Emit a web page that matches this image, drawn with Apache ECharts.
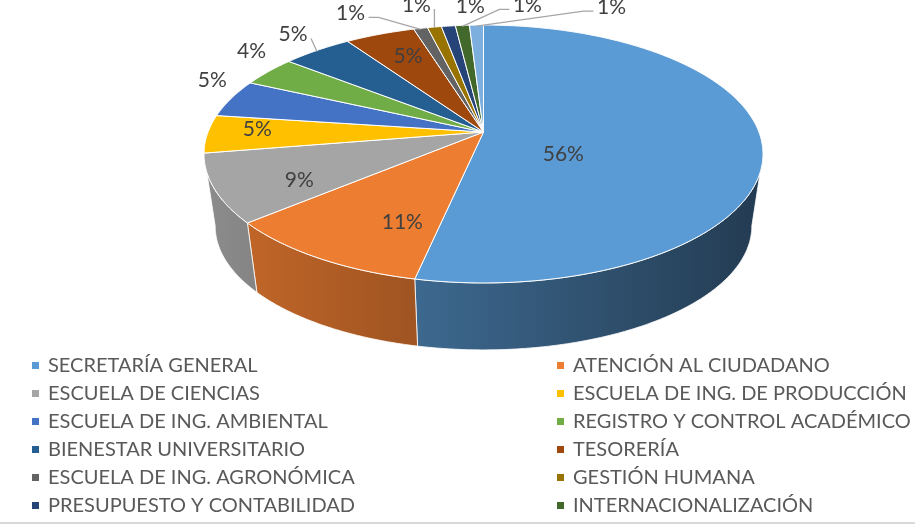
<!DOCTYPE html>
<html>
<head>
<meta charset="utf-8">
<script src="https://cdn.jsdelivr.net/npm/echarts@6/dist/echarts.min.js"></script>
<style>
  html, body { margin: 0; padding: 0; background: #fff; }
  #main { width: 915px; height: 529px; }
</style>
</head>
<body>
<div id="main"></div>
<script>
// datos del gráfico
var names = ['SECRETARÍA GENERAL', 'ATENCIÓN AL CIUDADANO', 'ESCUELA DE CIENCIAS',
  'ESCUELA DE ING. DE PRODUCCIÓN', 'ESCUELA DE ING. AMBIENTAL', 'REGISTRO Y CONTROL ACADÉMICO',
  'BIENESTAR UNIVERSITARIO', 'TESORERÍA', 'ESCUELA DE ING. AGRONÓMICA', 'GESTIÓN HUMANA',
  'PRESUPUESTO Y CONTABILIDAD', 'INTERNACIONALIZACIÓN', 'OTRAS DEPENDENCIAS'];
var values = [56, 11, 9, 5, 5, 4, 5, 5, 1, 1, 1, 1, 1];
var colors = ['#5B9BD5', '#ED7D31', '#A5A5A5', '#FFC000', '#4472C4', '#70AD47',
  '#255E91', '#9E480E', '#636363', '#997300', '#264478', '#43682B', '#7CAFDD'];
var legendCount = 12;   // the last one is cut off in the original legend

// label placement: inside -> radius fraction + drop, outside -> offset from the rim
var labelLayout = [
  { r: 0.29, dy: 18 }, { r: 0.53, dy: 28 }, { r: 0.70, dy: 9 }, { r: 0.82, dy: -4 },
  { dx: -19, dy: -18 }, { dx: -17, dy: -20 }, { dx: -24, dy: -16, line: true }, { r: 0.70, dy: -4 },
  { dx: -70, dy: -15, line: true }, { dx: -18, dy: -22, line: true }, { dx: 22, dy: -20 },
  { dx: 65, dy: -20, line: true }, { dx: 135, dy: -18, line: true }
];

// pie geometry (3D look, perspective)
var CX = 483.5, CY = 132, RX = 275.4, RY = 125.2, K = 0.1705, DEPTH = 73, SHRINK = 0.96;
// the wall is only seen between the two silhouette points
var WALL_FROM = Math.acos(-K) * 180 / Math.PI, WALL_TO = 360 - WALL_FROM;

var total = values.reduce(function (a, b) { return a + b; }, 0);
var startAngles = [], endAngles = [];
var acc = 0;
values.forEach(function (v) {
  startAngles.push(acc / total * 360);
  acc += v;
  endAngles.push(acc / total * 360);
});

function project(deg, r, bottom) {
  var a = deg * Math.PI / 180;
  var u = Math.sin(a) * r, v = Math.cos(a) * r;
  var s = 1 / (1 + K * v);
  var f = bottom ? SHRINK : 1;
  return [CX + RX * f * u * s, CY + (bottom ? DEPTH : 0) - RY * f * v * s];
}

function arc(a0, a1, r, bottom) {
  var pts = [];
  var n = Math.max(2, Math.ceil((a1 - a0) / 0.5));
  for (var i = 0; i <= n; i++) {
    pts.push(project(a0 + (a1 - a0) * i / n, r, bottom));
  }
  return pts;
}

function shade(hex, f) {
  var n = parseInt(hex.slice(1), 16);
  var r = Math.round(((n >> 16) & 255) * f);
  var g = Math.round(((n >> 8) & 255) * f);
  var b = Math.round((n & 255) * f);
  return 'rgb(' + r + ',' + g + ',' + b + ')';
}

function wallGradient(c) {
  return new echarts.graphic.LinearGradient(CX - RX * 1.02, 0, CX + RX * 1.02, 0, [
    { offset: 0, color: shade(c, 0.85) },
    { offset: 1, color: shade(c, 0.38) }
  ], true);
}

function renderSlice(params, api) {
  var i = params.seriesIndex;
  var a0 = startAngles[i], a1 = endAngles[i];
  var color = colors[i];
  var children = [];

  // front wall
  var w0 = Math.max(a0, WALL_FROM), w1 = Math.min(a1, WALL_TO);
  if (w1 > w0) {
    var top = arc(w0, w1, 1, false);
    var bot = arc(w0, w1, 1, true).reverse();
    children.push({
      type: 'polygon', z2: 1,
      shape: { points: top.concat(bot) },
      style: { fill: wallGradient(color), stroke: '#ffffff', lineWidth: 0.8 }
    });
  }

  // top face
  children.push({
    type: 'polygon', z2: 2,
    shape: { points: [[CX, CY]].concat(arc(a0, a1, 1, false)) },
    style: { fill: color, stroke: '#ffffff', lineWidth: 1 }
  });

  // label
  var mid = (a0 + a1) / 2;
  var lay = labelLayout[i];
  var lx, ly;
  if (lay.r != null) {
    var p = project(mid, lay.r, false);
    lx = p[0]; ly = p[1] + lay.dy;
  } else {
    var rim = project(mid, 1, false);
    lx = rim[0] + lay.dx; ly = rim[1] + lay.dy;
    if (lay.line) {
      var half = 14;
      var dir = lay.dx < 0 ? 1 : -1;
      var sx = lx + dir * (half + 4), sy = ly + 4;
      var pts = [[sx, sy]];
      if ((rim[0] - sx) * dir > 14) pts.push([sx + dir * 10, sy]);
      pts.push([rim[0], rim[1] + 1]);
      children.push({
        type: 'polyline', z2: 3,
        shape: { points: pts },
        style: { stroke: '#a6a6a6', lineWidth: 1.3, fill: 'none' }
      });
    }
  }
  children.push({
    type: 'text', z2: 4,
    style: {
      text: values[i] + '%', x: lx, y: ly,
      align: 'center', verticalAlign: 'middle',
      fontSize: 21, fontFamily: 'Lato', fill: '#404040'
    }
  });

  return { type: 'group', children: children };
}

var legendText = { fontSize: 20, fontFamily: 'Lato', color: '#595959', lineHeight: 21, padding: [0, 0, 0, 4] };
var leftNames = names.filter(function (n, i) { return i < legendCount && i % 2 === 0; });
var rightNames = names.filter(function (n, i) { return i < legendCount && i % 2 === 1; });

var option = {
  animation: false,
  color: colors,
  textStyle: { fontFamily: 'Lato' },
  legend: [
    {
      orient: 'vertical', left: 32, top: 355, padding: 0,
      itemWidth: 7, itemHeight: 7, itemGap: 7, icon: 'rect',
      data: leftNames, textStyle: legendText, selectedMode: false
    },
    {
      orient: 'vertical', left: 557, top: 355, padding: 0,
      itemWidth: 7, itemHeight: 7, itemGap: 7, icon: 'rect',
      data: rightNames, textStyle: legendText, selectedMode: false
    }
  ],
  graphic: [
    {
      type: 'line', shape: { x1: 0, y1: 523, x2: 915, y2: 523 },
      style: { stroke: '#d9d9d9', lineWidth: 2 }, silent: true
    }
  ],
  series: names.map(function (n, i) {
    return {
      type: 'custom',
      name: n,
      coordinateSystem: 'none',
      silent: true,
      itemStyle: { color: colors[i] },
      renderItem: renderSlice,
      data: [values[i]]
    };
  })
};

var chart = echarts.init(document.getElementById('main'));
chart.setOption(option);
</script>
</body>
</html>
